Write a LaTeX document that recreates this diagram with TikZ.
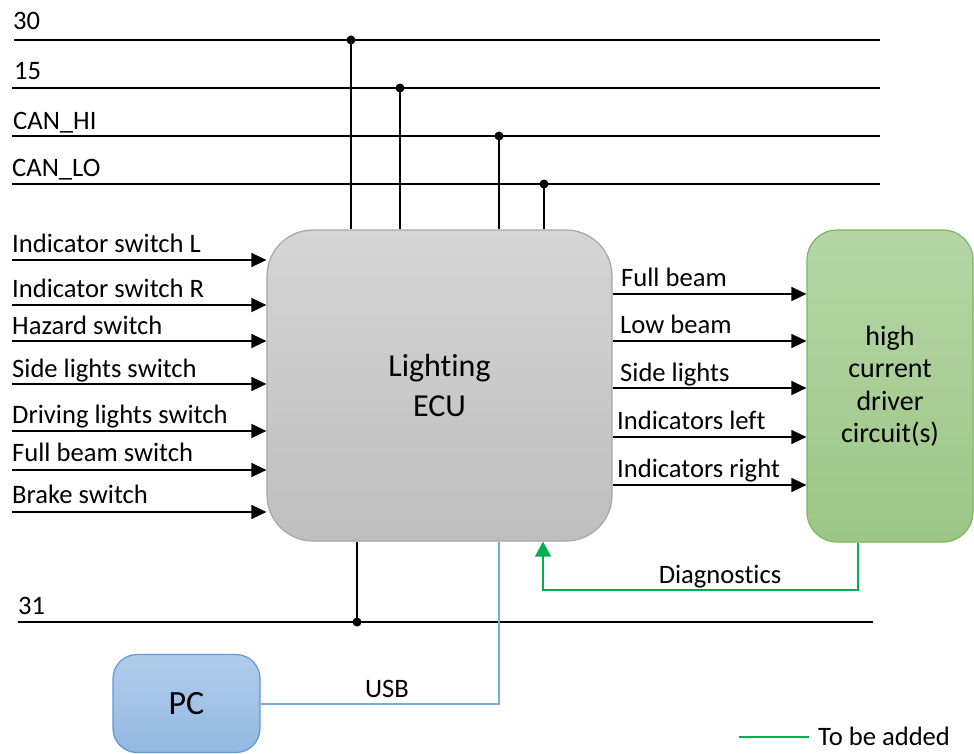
\documentclass[tikz,border=0pt]{standalone}
\usepackage{fontspec}
\setmainfont[Ligatures=NoCommon]{Carlito}
\usetikzlibrary{arrows.meta}
\definecolor{ecutop}{HTML}{D5D5D5}
\definecolor{ecubot}{HTML}{BEBEBE}
\definecolor{eculine}{HTML}{A6A6A6}
\definecolor{drvtop}{HTML}{B5D6A7}
\definecolor{drvbot}{HTML}{9CC685}
\definecolor{drvline}{HTML}{7CB65E}
\definecolor{pctop}{HTML}{B2CCEB}
\definecolor{pcbot}{HTML}{93B8E2}
\definecolor{pcline}{HTML}{5B9BD5}
\definecolor{usbline}{HTML}{7AA9DE}
\definecolor{newline}{HTML}{00B050}
\begin{document}
\begin{tikzpicture}[x=1pt,y=-1pt,
  wire/.style={line width=1.4pt,black},
  sig/.style={wire,-{Triangle[length=15pt,width=14pt]}},
  lbl/.style={anchor=base west,inner sep=0pt,font=\fontsize{26.6}{30}\selectfont},
  clbl/.style={anchor=base,inner sep=0pt,font=\fontsize{26.6}{30}\selectfont},
  junction/.style={circle,fill=black,inner sep=0pt,minimum size=9pt},
  ecubox/.style={draw=eculine,line width=1.2pt,rounded corners=46pt,top color=ecutop,bottom color=ecubot,
    align=center,inner sep=0pt,font=\fontsize{32}{40}\selectfont},
  drvbox/.style={draw=drvline,line width=1.2pt,rounded corners=30pt,top color=drvtop,bottom color=drvbot,
    align=center,inner sep=0pt,font=\fontsize{28}{32.5}\selectfont},
  pcbox/.style={draw=pcline,line width=1.2pt,rounded corners=24pt,top color=pctop,bottom color=pcbot,
    inner sep=0pt,font=\fontsize{34}{36}\selectfont}
]
\useasboundingbox (0,0) rectangle (974,754);

% main blocks
\node[ecubox,minimum width=345pt,minimum height=311pt] (ecu) at (439.5,385.5) {Lighting\\ECU};
\node[drvbox,minimum width=166pt,minimum height=312pt] (drv) at (890,386) {high\\current\\driver\\circuit(s)};
\node[pcbox,minimum width=147pt,minimum height=98pt] (pc) at (186.5,703.5) {PC};

% supply and CAN buses
\coordinate (b30s) at (14,40);  \coordinate (b30e) at (880,40);
\coordinate (b15s) at (12,88);  \coordinate (b15e) at (880,88);
\coordinate (bhis) at (12,136); \coordinate (bhie) at (880,136);
\coordinate (blos) at (12,184); \coordinate (bloe) at (880,184);
\coordinate (b31s) at (18,622); \coordinate (b31e) at (873,622);
\foreach \s/\e in {b30s/b30e,b15s/b15e,bhis/bhie,blos/bloe,b31s/b31e}
  \draw[wire] (\s) -- (\e);
\node[lbl] (l30) at (13,30) {30};
\node[lbl] (l15) at (14,80) {15};
\node[lbl] (lhi) at (13,130) {CAN\_HI};
\node[lbl] (llo) at (12,177) {CAN\_LO};
\node[lbl] (l31) at (18,614) {31};

% taps from the buses into the ECU
\node[junction] (j30) at (351,40) {};
\node[junction] (j15) at (400,88) {};
\node[junction] (jhi) at (499,136) {};
\node[junction] (jlo) at (544,184) {};
\node[junction] (j31) at (357,622) {};
\foreach \j in {j30,j15,jhi,jlo}
  \draw[wire] (\j.center) -- (\j |- ecu.north);
\draw[wire] (j31.center) -- (j31 |- ecu.south);

% switch inputs
\foreach \n/\y/\t/\b in {1/260/Indicator switch L/252,
                          2/305/Indicator switch R/297,
                          3/341/Hazard switch/334,
                          4/384/Side lights switch/377,
                          5/431/Driving lights switch/423,
                          6/470/Full beam switch/461,
                          7/512/Brake switch/503}{
  \coordinate (in\n) at (12,\y);
  \draw[sig] (in\n) -- (in\n -| ecu.west);
  \node[lbl] (inl\n) at (12,\b) {\t};
}

% driver outputs
\foreach \n/\y/\t/\b/\x in {1/294/Full beam/286/621,
                             2/341/Low beam/333/620,
                             3/388/Side lights/381/620,
                             4/437/Indicators left/429/617,
                             5/485/Indicators right/477/617}{
  \coordinate (out\n) at (612,\y);
  \draw[sig] (out\n -| ecu.east) -- (out\n -| drv.west);
  \node[lbl] (outl\n) at (\x,\b) {\t};
}

% diagnostics feedback (planned)
\coordinate (dg1) at (858,590);
\coordinate (dg2) at (543,590);
\draw[line width=1.4pt,newline,-{Triangle[length=15pt,width=16pt]}]
  (dg1 |- drv.south) -- (dg1) -- (dg2) -- (dg2 |- ecu.south);
\node[clbl] (dgl) at (720,583) {Diagnostics};

% USB link to the PC
\coordinate (usb) at (499,704);
\draw[line width=1.4pt,usbline] (usb |- ecu.south) -- (usb) -- (usb -| pc.east);
\node[clbl] (usbl) at (387,697) {USB};

% legend
\coordinate (lg1) at (739,737);
\coordinate (lg2) at (809,737);
\draw[line width=1.4pt,newline] (lg1) -- (lg2);
\node[lbl] (lgl) at (818,745) {To be added};
\end{tikzpicture}
\end{document}
